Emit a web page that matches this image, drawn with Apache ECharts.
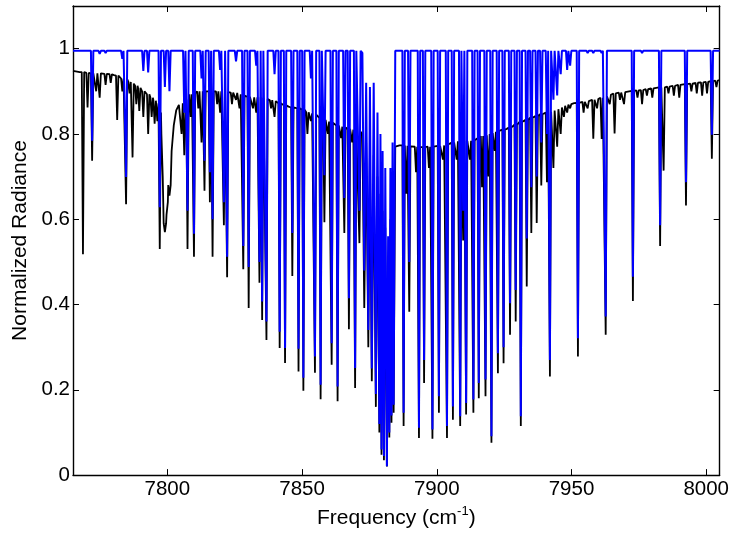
<!DOCTYPE html>
<html><head><meta charset="utf-8">
<script src="https://cdn.jsdelivr.net/npm/echarts@6/dist/echarts.min.js"></script>
<style>html,body{margin:0;padding:0;background:#fff}#c{width:732px;height:534px}</style>
</head><body><div id="c"></div>
<script>
// ---- data ----
const xTicks = [7800, 7850, 7900, 7950, 8000];
const yTicks = [0, 0.2, 0.4, 0.6, 0.8, 1];

// absorption lines: centre, blue minimum (null = not in blue), black minimum, black level beside the line
const lineX = [7768.7,7770.4,7772.1,7773.6,7774.9,7777.1,7779.0,7781.4,7783.3,7784.7,7786.0,7787.1,7788.5,7789.6,7791.1,7792.9,7794.2,7795.3,7796.3,7797.2,7799.1,7800.8,
7805.3,7806.3,7807.5,7808.7,7809.9,7811.5,7812.7,7813.8,7815.8,7816.8,7818.5,7819.6,7821.0,7822.2,7824.0,7825.5,7826.8,7828.2,7830.2,7831.8,7833.0,7834.2,7835.2,7836.8,7838.5,7839.8,7841.7,7843.7,
7846.4,7848.7,7850.5,7852.0,7853.3,7854.8,7856.9,7858.3,7859.6,7861.0,7863.2,7864.5,7865.7,7867.4,7868.6,7869.7,7871.3,
7887.7,7888.7,7889.8,7892.3,7893.4,7895.3,7897.1,7898.4,7900.8,7902.3,7903.8,7906.0,7907.4,7908.7,7909.8,7910.9,7912.3,7913.6,7915.6,7916.8,7918.1,7919.2,7920.3,7921.5,7922.7,7924.8,
7927.2,7929.3,7931.2,7933.4,7935.1,7937.1,7938.8,7940.9,7942.0,7943.3,7944.7,7946.0,7947.2,7948.4,7949.5,7952.4,7954.5,7956.0,7958.1,7959.5,7961.2,7962.7,7964.2,
7966.0,7968.0,7969.5,7972.8,7974.5,7976.2,7978.0,7980.0,7982.9,7984.2,7986.0,7988.0,7990.0,7992.5,7994.5,7996.5,7998.5,8000.3,8002.1,8003.8];
const blueTip = [null,null,0.784,null,0.988,0.99,null,null,0.976,0.699,null,null,null,null,0.948,0.944,null,null,null,0.628,0.91,0.90,
null,0.85,0.62,null,0.566,null,0.93,0.737,0.71,0.60,null,0.95,0.64,0.512,null,0.97,null,0.537,0.488,null,0.96,0.50,0.407,0.36,null,0.94,0.336,0.298,
0.568,0.296,0.228,null,0.93,0.278,0.212,0.703,null,0.309,0.208,null,0.65,0.415,null,0.251,0.62,
0.146,null,0.50,null,0.111,0.27,null,0.107,0.185,null,0.115,0.161,null,0.138,0.62,0.169,null,0.177,0.216,null,0.224,null,0.091,null,0.286,0.30,
0.403,0.434,0.138,0.555,0.675,0.70,0.78,0.80,0.27,0.88,0.89,0.94,null,0.95,0.96,0.321,null,0.99,0.99,null,0.99,0.372,null,
null,null,null,0.465,null,0.99,null,null,0.586,null,null,null,null,0.687,null,null,null,null,0.798,null];
const blackTip = [0.518,0.862,0.737,0.90,0.885,0.915,0.92,0.833,0.90,0.635,0.895,0.745,0.87,0.854,0.84,0.80,0.84,0.824,0.83,0.53,0.57,0.655,
0.80,0.75,0.53,0.84,0.512,0.86,0.78,0.667,0.64,0.512,0.87,0.85,0.586,0.464,0.87,0.88,0.86,0.483,0.392,0.86,0.85,0.451,0.364,0.317,0.86,0.84,0.298,0.263,
0.467,0.243,0.198,0.80,0.83,0.24,0.178,0.593,0.80,0.259,0.173,0.79,0.568,0.342,0.78,0.204,0.544,
0.115,0.66,0.383,0.71,0.087,0.216,0.72,0.085,0.146,0.74,0.087,0.13,0.74,0.115,0.55,0.142,0.74,0.146,0.18,0.675,0.185,0.70,0.076,0.76,0.239,0.262,
0.329,0.36,0.115,0.442,0.568,0.591,0.679,0.687,0.231,0.72,0.77,0.80,0.84,0.85,0.86,0.278,0.85,0.86,0.789,0.86,0.788,0.329,0.87,
0.801,0.88,0.87,0.408,0.885,0.87,0.89,0.885,0.537,0.714,0.895,0.89,0.885,0.632,0.90,0.895,0.89,0.895,0.742,0.91];
const blackTop = [0.945,0.943,0.942,0.942,0.942,0.941,0.94,0.937,0.93,0.928,0.922,0.918,0.913,0.908,0.90,0.893,0.885,0.878,0.872,0.85,0.59,0.68,
0.872,0.875,0.88,0.893,0.895,0.90,0.90,0.90,0.90,0.90,0.90,0.90,0.90,0.898,0.897,0.896,0.893,0.89,0.887,0.886,0.886,0.886,0.885,0.882,0.879,0.877,0.872,0.867,
0.862,0.86,0.857,0.851,0.848,0.845,0.838,0.833,0.829,0.826,0.82,0.817,0.815,0.812,0.81,0.808,0.805,
0.773,0.772,0.771,0.77,0.769,0.769,0.77,0.77,0.772,0.773,0.775,0.78,0.783,0.784,0.784,0.784,0.784,0.785,0.79,0.795,0.797,0.80,0.802,0.805,0.807,0.81,
0.815,0.822,0.828,0.833,0.838,0.842,0.846,0.85,0.852,0.855,0.858,0.862,0.866,0.869,0.87,0.873,0.875,0.877,0.88,0.882,0.885,0.888,0.892,
0.895,0.897,0.898,0.901,0.902,0.903,0.905,0.907,0.909,0.909,0.911,0.913,0.915,0.917,0.918,0.92,0.921,0.922,0.924,0.925];
const blueBaseline = 0.995;

// black continuum knots
const contX = [7765,7767.5,7771.2,7776,7780.2,7782.3,7785.4,7790.3,7793.6,7797.8,7798.3,7799.7,7800.2,7801.6,7802.4,7803.3,7804.3,7845.0,7886.2,7926.0,7951.0,8005];
const contY = [0.948,0.945,0.942,0.941,0.938,0.934,0.924,0.905,0.889,0.80,0.70,0.61,0.64,0.76,0.82,0.855,0.868,0.864,0.773,0.812,0.872,0.926];

// dense band centre: alternating maxima / minima
const coreX = [7872.4,7873.1,7873.8,7874.6,7875.2,7875.9,7876.6,7877.4,7878.0,7878.7,7879.1,7879.5,7879.9,7880.4,7880.9,7881.5,7881.95,7882.4,7882.8,7883.2,7883.6,7884.0,7884.6];
const coreBlue = [0.99,0.48,0.92,0.34,0.91,0.25,0.92,0.19,0.85,0.12,0.80,0.06,0.76,0.045,0.72,0.021,0.56,0.10,0.72,0.14,0.78,0.165,0.995];
const coreBlack = [0.80,0.392,0.78,0.30,0.76,0.22,0.75,0.16,0.70,0.10,0.66,0.048,0.62,0.035,0.58,0.02,0.46,0.088,0.60,0.123,0.65,0.146,0.77];

// ---- build series ----
const HW = 0.45;
function byX(a, b) { return a[0] - b[0]; }
const blackData = [];
const blueData = [[7765, blueBaseline], [8005, blueBaseline]];
for (let i = 0; i < lineX.length; i++) {
  const c = lineX[i];
  blackData.push([c - HW, blackTop[i]], [c, blackTip[i]], [c + HW, blackTop[i]]);
  if (blueTip[i] !== null) blueData.push([c - HW, blueBaseline], [c, blueTip[i]], [c + HW, blueBaseline]);
}
for (let i = 0; i < coreX.length; i++) {
  blackData.push([coreX[i], coreBlack[i]]);
  blueData.push([coreX[i], coreBlue[i]]);
}
for (let i = 0; i < contX.length; i++) {
  const x = contX[i];
  if (lineX.some(c => Math.abs(c - x) < HW + 0.05)) continue;
  blackData.push([x, contY[i]]);
}
blackData.sort(byX);
blueData.sort(byX);

const FONT = 'Liberation Sans, Arial, Helvetica, sans-serif';
const axisLine = { show: true, onZero: false, lineStyle: { color: '#000', width: 1.4 } };
const tick = (vals) => ({ show: true, inside: true, length: 6, customValues: vals, lineStyle: { color: '#000', width: 1 } });

const chart = echarts.init(document.getElementById('c'), null, { renderer: 'canvas' });
chart.setOption({
  animation: false,
  backgroundColor: '#fff',
  grid: { left: 73, right: 11, top: 6, bottom: 58, containLabel: false },
  xAxis: [
    { type: 'value', position: 'bottom', min: 7765, max: 8005,
      axisLine, axisTick: tick(xTicks), splitLine: { show: false },
      axisLabel: { customValues: xTicks, formatter: v => String(v), color: '#000', fontSize: 20.5, fontFamily: FONT, margin: 4 },
      name: '{a|Frequency (cm}{s|-1}{a|)}', nameLocation: 'middle', nameGap: 27,
      nameTextStyle: { rich: {
        a: { fontSize: 21, fontFamily: FONT, color: '#000', lineHeight: 24, verticalAlign: 'bottom' },
        s: { fontSize: 13, fontFamily: FONT, color: '#000', lineHeight: 13, verticalAlign: 'top' } } } },
    { type: 'value', position: 'top', min: 7765, max: 8005,
      axisLine, axisTick: tick(xTicks), axisLabel: { show: false }, splitLine: { show: false } }
  ],
  yAxis: [
    { type: 'value', position: 'left', min: 0, max: 1.1,
      axisLine, axisTick: tick(yTicks), splitLine: { show: false },
      axisLabel: { customValues: yTicks, formatter: v => String(v), color: '#000', fontSize: 20.5, fontFamily: FONT, margin: 3 },
      name: 'Normalized Radiance', nameLocation: 'middle', nameGap: 40,
      nameTextStyle: { fontSize: 21, fontFamily: FONT, color: '#000' } },
    { type: 'value', position: 'right', min: 0, max: 1.1,
      axisLine, axisTick: tick(yTicks), axisLabel: { show: false }, splitLine: { show: false } }
  ],
  series: [
    { name: 'measured', type: 'line', data: blackData, showSymbol: false, symbol: 'none',
      lineStyle: { color: '#000', width: 1.8 }, sampling: null, xAxisIndex: 0, yAxisIndex: 0, z: 2 },
    { name: 'model', type: 'line', data: blueData, showSymbol: false, symbol: 'none',
      lineStyle: { color: '#0000ff', width: 2 }, sampling: null, xAxisIndex: 0, yAxisIndex: 0, z: 3 }
  ]
});
</script></body></html>
